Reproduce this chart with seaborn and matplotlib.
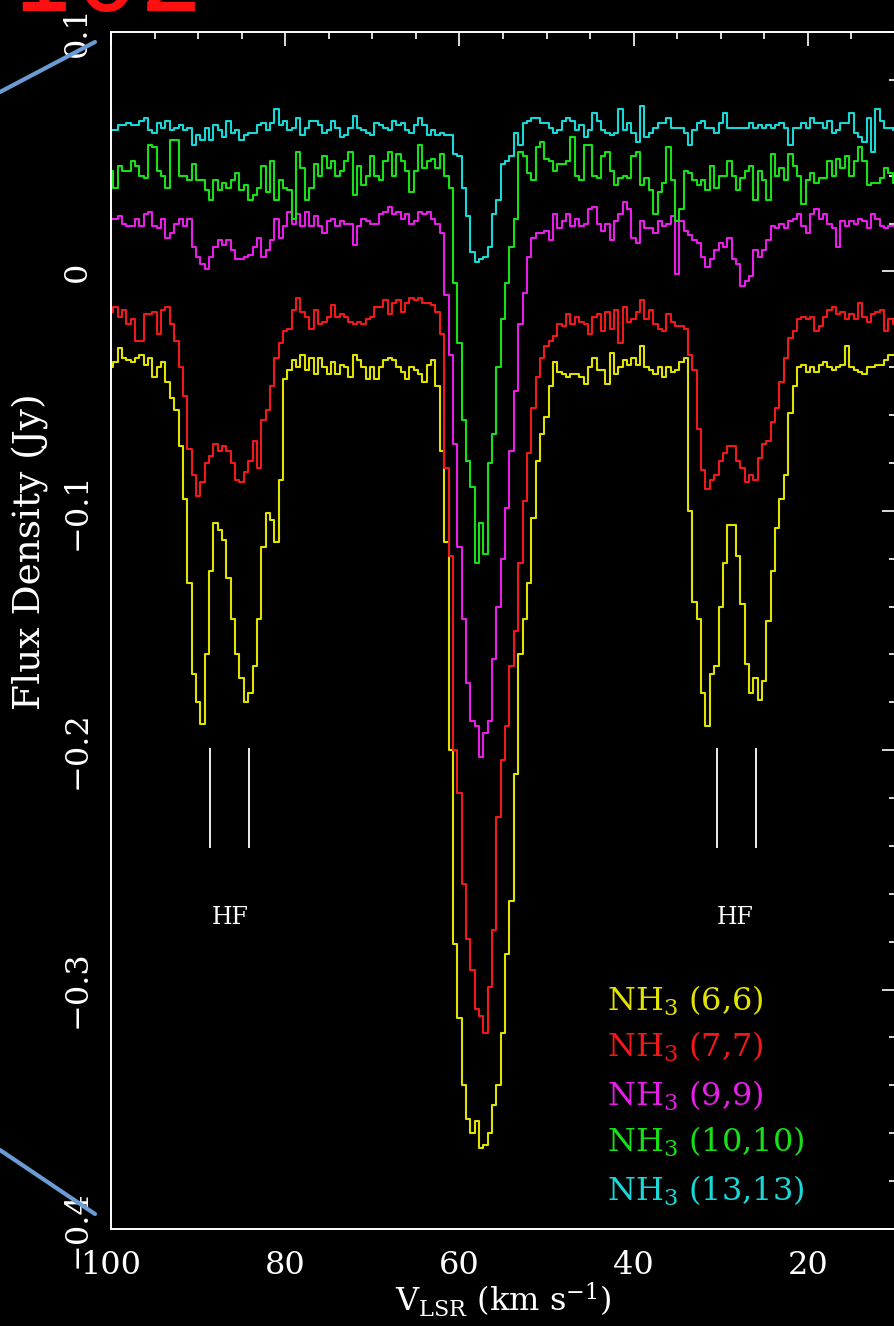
import numpy as np
import pandas as pd
import matplotlib
matplotlib.use("Agg")
import matplotlib.pyplot as plt
import seaborn as sns
from matplotlib.ticker import MultipleLocator, FuncFormatter
from matplotlib.lines import Line2D

# ---------------- data ----------------
# velocity channels, 0.5 km/s wide, from 100 down to 10 km/s
velocity = np.round(np.arange(100.0, 9.99, -0.5), 2)

nh3_66 = [
    -0.040, -0.038, -0.032, -0.036, -0.037, -0.038, -0.036, -0.035, -0.039, -0.036,
    -0.044, -0.040, -0.038, -0.046, -0.053, -0.058, -0.073, -0.095, -0.130, -0.168,
    -0.180, -0.189, -0.160, -0.125, -0.105, -0.108, -0.112, -0.128, -0.145, -0.160,
    -0.170, -0.180, -0.176, -0.165, -0.145, -0.115, -0.101, -0.104, -0.113, -0.087,
    -0.045, -0.041, -0.037, -0.040, -0.035, -0.041, -0.036, -0.043, -0.036, -0.040,
    -0.043, -0.038, -0.043, -0.039, -0.040, -0.044, -0.035, -0.037, -0.040, -0.045,
    -0.040, -0.045, -0.040, -0.037, -0.036, -0.037, -0.040, -0.042, -0.045, -0.040,
    -0.041, -0.043, -0.046, -0.039, -0.037, -0.048, -0.075, -0.113, -0.200, -0.281,
    -0.312, -0.340, -0.354, -0.360, -0.355, -0.366, -0.365, -0.360, -0.348, -0.340,
    -0.318, -0.285, -0.263, -0.210, -0.160, -0.145, -0.130, -0.103, -0.079, -0.068,
    -0.061, -0.048, -0.038, -0.042, -0.043, -0.044, -0.043, -0.043, -0.044, -0.047,
    -0.040, -0.036, -0.041, -0.041, -0.047, -0.034, -0.043, -0.040, -0.037, -0.039,
    -0.036, -0.039, -0.031, -0.040, -0.041, -0.043, -0.040, -0.044, -0.040, -0.042,
    -0.041, -0.038, -0.036, -0.100, -0.138, -0.145, -0.176, -0.190, -0.168, -0.165,
    -0.140, -0.122, -0.106, -0.106, -0.119, -0.139, -0.164, -0.176, -0.170, -0.179,
    -0.171, -0.146, -0.125, -0.107, -0.095, -0.085, -0.059, -0.048, -0.040, -0.039,
    -0.042, -0.040, -0.042, -0.039, -0.038, -0.040, -0.041, -0.040, -0.039, -0.031,
    -0.040, -0.041, -0.042, -0.043, -0.040, -0.040, -0.039, -0.039, -0.037, -0.035,
    -0.035,
]

nh3_77 = [
    -0.017, -0.015, -0.019, -0.016, -0.022, -0.020, -0.029, -0.029, -0.018, -0.018,
    -0.017, -0.026, -0.016, -0.015, -0.022, -0.029, -0.040, -0.052, -0.074, -0.085,
    -0.094, -0.088, -0.080, -0.077, -0.072, -0.075, -0.073, -0.075, -0.080, -0.087,
    -0.088, -0.084, -0.079, -0.071, -0.082, -0.062, -0.058, -0.048, -0.036, -0.030,
    -0.025, -0.024, -0.016, -0.011, -0.017, -0.019, -0.024, -0.016, -0.022, -0.021,
    -0.019, -0.014, -0.019, -0.018, -0.019, -0.021, -0.022, -0.021, -0.022, -0.020,
    -0.019, -0.015, -0.015, -0.012, -0.018, -0.013, -0.012, -0.017, -0.013, -0.011,
    -0.012, -0.011, -0.013, -0.013, -0.014, -0.017, -0.026, -0.082, -0.119, -0.200,
    -0.218, -0.256, -0.279, -0.292, -0.308, -0.311, -0.318, -0.299, -0.275, -0.228,
    -0.204, -0.190, -0.165, -0.150, -0.122, -0.096, -0.076, -0.057, -0.044, -0.036,
    -0.031, -0.029, -0.027, -0.022, -0.023, -0.018, -0.022, -0.019, -0.021, -0.022,
    -0.026, -0.019, -0.018, -0.025, -0.017, -0.024, -0.016, -0.030, -0.015, -0.021,
    -0.020, -0.017, -0.012, -0.020, -0.016, -0.022, -0.024, -0.025, -0.018, -0.021,
    -0.023, -0.023, -0.024, -0.035, -0.041, -0.066, -0.083, -0.091, -0.087, -0.085,
    -0.079, -0.076, -0.073, -0.073, -0.079, -0.082, -0.088, -0.085, -0.087, -0.078,
    -0.072, -0.071, -0.063, -0.057, -0.046, -0.036, -0.028, -0.025, -0.020, -0.019,
    -0.020, -0.019, -0.025, -0.023, -0.019, -0.016, -0.015, -0.018, -0.017, -0.020,
    -0.018, -0.020, -0.013, -0.019, -0.021, -0.018, -0.017, -0.016, -0.025, -0.020,
    -0.022,
]

nh3_99 = [
    0.022, 0.022, 0.023, 0.020, 0.019, 0.019, 0.022, 0.019, 0.024, 0.025,
    0.019, 0.018, 0.022, 0.014, 0.016, 0.020, 0.022, 0.019, 0.022, 0.010,
    0.006, 0.003, 0.001, 0.006, 0.010, 0.013, 0.011, 0.013, 0.009, 0.005,
    0.005, 0.006, 0.007, 0.010, 0.014, 0.006, 0.009, 0.013, 0.022, 0.014,
    0.019, 0.025, 0.020, 0.024, 0.019, 0.025, 0.019, 0.023, 0.019, 0.016,
    0.021, 0.022, 0.019, 0.021, 0.020, 0.020, 0.011, 0.019, 0.022, 0.021,
    0.020, 0.020, 0.024, 0.025, 0.027, 0.024, 0.025, 0.022, 0.024, 0.020,
    0.021, 0.025, 0.024, 0.025, 0.022, 0.020, 0.016, -0.010, -0.035, -0.072,
    -0.115, -0.145, -0.172, -0.188, -0.190, -0.203, -0.193, -0.188, -0.162, -0.140,
    -0.120, -0.099, -0.075, -0.050, -0.022, -0.009, 0.006, 0.014, 0.016, 0.016,
    0.017, 0.013, 0.024, 0.018, 0.021, 0.024, 0.019, 0.022, 0.019, 0.020,
    0.026, 0.027, 0.020, 0.017, 0.020, 0.013, 0.021, 0.024, 0.029, 0.026,
    0.014, 0.012, 0.021, 0.018, 0.018, 0.016, 0.021, 0.019, 0.020, 0.023,
    -0.001, 0.021, 0.017, 0.015, 0.013, 0.012, 0.006, 0.002, 0.005, 0.009,
    0.012, 0.010, 0.014, 0.005, 0.003, -0.006, -0.004, -0.002, 0.009, 0.006,
    0.009, 0.013, 0.019, 0.018, 0.020, 0.018, 0.021, 0.022, 0.024, 0.019,
    0.016, 0.024, 0.026, 0.022, 0.024, 0.020, 0.018, 0.010, 0.021, 0.019,
    0.021, 0.020, 0.022, 0.021, 0.018, 0.024, 0.022, 0.019, 0.018, 0.019,
    0.019,
]

nh3_1010 = [
    0.042, 0.035, 0.044, 0.042, 0.042, 0.046, 0.044, 0.040, 0.039, 0.053,
    0.052, 0.042, 0.040, 0.035, 0.055, 0.055, 0.040, 0.040, 0.038, 0.045,
    0.038, 0.038, 0.034, 0.030, 0.038, 0.034, 0.037, 0.035, 0.038, 0.041,
    0.034, 0.036, 0.030, 0.032, 0.035, 0.044, 0.033, 0.046, 0.030, 0.038,
    0.035, 0.034, 0.022, 0.050, 0.043, 0.030, 0.035, 0.045, 0.040, 0.048,
    0.043, 0.046, 0.040, 0.042, 0.046, 0.050, 0.032, 0.044, 0.036, 0.040,
    0.048, 0.040, 0.038, 0.046, 0.050, 0.040, 0.049, 0.046, 0.042, 0.033,
    0.042, 0.053, 0.043, 0.046, 0.047, 0.043, 0.049, 0.040, 0.035, -0.005,
    -0.030, -0.062, -0.079, -0.090, -0.122, -0.105, -0.118, -0.080, -0.068, -0.040,
    -0.020, -0.005, 0.010, 0.022, 0.050, 0.048, 0.041, 0.038, 0.052, 0.054,
    0.047, 0.046, 0.042, 0.045, 0.045, 0.046, 0.056, 0.040, 0.038, 0.053,
    0.053, 0.040, 0.039, 0.048, 0.050, 0.042, 0.036, 0.039, 0.040, 0.039,
    0.048, 0.050, 0.036, 0.039, 0.034, 0.024, 0.033, 0.037, 0.052, 0.038,
    0.021, 0.026, 0.042, 0.041, 0.038, 0.036, 0.038, 0.034, 0.044, 0.035,
    0.040, 0.040, 0.046, 0.040, 0.034, 0.039, 0.042, 0.044, 0.030, 0.042,
    0.038, 0.030, 0.049, 0.040, 0.043, 0.038, 0.049, 0.044, 0.040, 0.028,
    0.038, 0.041, 0.037, 0.039, 0.039, 0.046, 0.040, 0.047, 0.043, 0.048,
    0.040, 0.046, 0.052, 0.046, 0.036, 0.037, 0.037, 0.039, 0.043, 0.041,
    0.037,
]

nh3_1313 = [
    0.059, 0.059, 0.061, 0.061, 0.062, 0.061, 0.061, 0.063, 0.064, 0.059,
    0.058, 0.062, 0.060, 0.063, 0.059, 0.060, 0.061, 0.059, 0.060, 0.053,
    0.057, 0.055, 0.060, 0.055, 0.061, 0.059, 0.056, 0.063, 0.058, 0.059,
    0.055, 0.057, 0.058, 0.058, 0.061, 0.062, 0.059, 0.062, 0.068, 0.061,
    0.063, 0.059, 0.060, 0.064, 0.057, 0.060, 0.063, 0.063, 0.061, 0.058,
    0.059, 0.063, 0.060, 0.056, 0.057, 0.060, 0.065, 0.060, 0.059, 0.058,
    0.057, 0.062, 0.061, 0.060, 0.059, 0.063, 0.061, 0.062, 0.059, 0.058,
    0.061, 0.064, 0.061, 0.057, 0.059, 0.057, 0.058, 0.057, 0.057, 0.049,
    0.048, 0.035, 0.023, 0.008, 0.004, 0.005, 0.006, 0.010, 0.024, 0.030,
    0.045, 0.046, 0.048, 0.058, 0.053, 0.062, 0.063, 0.064, 0.064, 0.062,
    0.062, 0.060, 0.058, 0.059, 0.063, 0.064, 0.063, 0.059, 0.061, 0.056,
    0.059, 0.066, 0.063, 0.059, 0.058, 0.057, 0.058, 0.068, 0.059, 0.062,
    0.058, 0.054, 0.069, 0.056, 0.058, 0.060, 0.062, 0.062, 0.064, 0.060,
    0.060, 0.060, 0.058, 0.053, 0.059, 0.062, 0.063, 0.060, 0.060, 0.058,
    0.062, 0.066, 0.060, 0.060, 0.060, 0.060, 0.060, 0.062, 0.060, 0.061,
    0.060, 0.061, 0.060, 0.061, 0.062, 0.060, 0.053, 0.060, 0.060, 0.062,
    0.060, 0.064, 0.062, 0.062, 0.060, 0.063, 0.058, 0.059, 0.062, 0.062,
    0.066, 0.058, 0.056, 0.054, 0.064, 0.050, 0.068, 0.063, 0.060, 0.060,
    0.059,
]

line_labels = ["NH$_3$ (6,6)", "NH$_3$ (7,7)", "NH$_3$ (9,9)",
               "NH$_3$ (10,10)", "NH$_3$ (13,13)"]
line_colors = ["#e2e200", "#f01818", "#e81ee8", "#18e018", "#18d8d8"]

hf_velocities = [88.6, 84.2, 30.4, 25.95]
hf_label_velocities = [86.3, 28.3]

# ---------------- long-form table ----------------
frames = []
for lab, vals in zip(line_labels, [nh3_66, nh3_77, nh3_99, nh3_1010, nh3_1313]):
    frames.append(pd.DataFrame({"v": velocity, "flux": vals, "line": lab}))
df = pd.concat(frames, ignore_index=True)

# ---------------- style ----------------
sns.set_style("dark", {"axes.facecolor": "black", "figure.facecolor": "black",
                       "axes.edgecolor": "white", "axes.grid": False})
plt.rcParams["font.family"] = ["DejaVu Serif"]
plt.rcParams["mathtext.fontset"] = "dejavuserif"
plt.rcParams["axes.unicode_minus"] = True

W, H = 895, 1326
fig = plt.figure(figsize=(W / 100, H / 100), dpi=100, facecolor="black")
ax_left, ax_right, ax_top, ax_bot = 111, 896, 32, 1229
ax = fig.add_axes([ax_left / W, 1 - ax_bot / H, (ax_right - ax_left) / W,
                   (ax_bot - ax_top) / H])
ax.set_facecolor("black")

sns.lineplot(data=df, x="v", y="flux", hue="line", hue_order=line_labels,
             palette=line_colors, drawstyle="steps-mid", linewidth=1.5,
             sort=False, estimator=None, errorbar=None, legend=False, ax=ax)

ax.set_xlim(100, 100 - (ax_right - ax_left) / 8.71)
ax.set_ylim(-0.4, 0.1)

# axes styling
for sp in ax.spines.values():
    sp.set_color("white")
    sp.set_linewidth(1.4)
ax.xaxis.set_major_locator(MultipleLocator(20))
ax.xaxis.set_minor_locator(MultipleLocator(5))
ax.yaxis.set_major_locator(MultipleLocator(0.1))
ax.yaxis.set_minor_locator(MultipleLocator(0.02))
ax.tick_params(which="both", direction="in", colors="white", top=True,
               right=True, width=1.2)
ax.tick_params(which="major", length=10)
ax.tick_params(which="minor", length=5)
ax.tick_params(axis="x", which="major", labelsize=23, pad=15)
ax.tick_params(axis="y", which="major", labelsize=23, pad=13)


def yfmt(val, pos):
    if abs(val) < 1e-9:
        return "0"
    return f"{val:.1f}".replace("-", "\u2212")


ax.yaxis.set_major_formatter(FuncFormatter(yfmt))
for lab in ax.get_yticklabels():
    lab.set_rotation(90)
    lab.set_va("center")

ax.set_xlabel(r"V$_{\rm LSR}$ (km s$^{-1}$)", color="white", fontsize=23,
              labelpad=0)
ax.set_ylabel("Flux Density (Jy)", color="white", fontsize=27)
ax.yaxis.set_label_coords(-0.079, 0.566)

# hyperfine markers
ax.vlines(hf_velocities, -0.241, -0.199, color="white", linewidth=1.3)
for hv in hf_label_velocities:
    ax.text(hv, -0.2698, "HF", color="white", fontsize=17, ha="center",
            va="center")

# colour-coded labels
label_y = [-0.3087, -0.3283, -0.3484, -0.3680, -0.3881]
for lab, col, yy in zip(line_labels, line_colors, label_y):
    ax.text(43.1, yy, lab, color=col, fontsize=23, ha="left", va="baseline")

# slide overlays (outside the plot)
fig.add_artist(Line2D([0, 95 / W], [1 - 92 / H, 1 - 42 / H],
                      transform=fig.transFigure, color="#6a9bd4", lw=3))
fig.add_artist(Line2D([0, 95 / W], [1 - 1150 / H, 1 - 1214 / H],
                      transform=fig.transFigure, color="#6a9bd4", lw=3))
fig.text(10 / W, 1 - 11 / H, "102", color="#ff1010", fontsize=74,
         family="DejaVu Sans", ha="left", va="baseline")

fig.savefig("out.png", dpi=100, facecolor="black")
